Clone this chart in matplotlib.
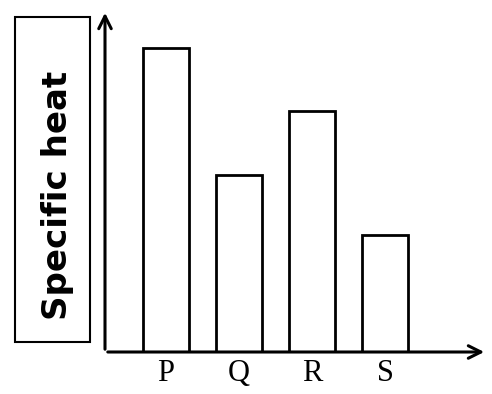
import matplotlib
matplotlib.use("Agg")
import matplotlib.pyplot as plt
from matplotlib.patches import Rectangle

# data (heights, arbitrary units)
labels = ["P", "Q", "R", "S"]
heights = [304, 177, 241, 117]
ylabel = "Specific heat"

W, H = 492, 394
fig = plt.figure(figsize=(W / 100, H / 100), dpi=100)

# axes placed in pixel terms: left 105, right 487, bottom 352, top 10
ax = fig.add_axes([105 / W, 1 - 352 / H, (487 - 105) / W, (352 - 10) / H])
pos = list(range(len(labels)))
ax.bar(pos, heights, width=0.62, facecolor="white", edgecolor="black", linewidth=2)
ax.set_xlim(-0.836, 4.397)
ax.set_ylim(0, 342)

for s in ax.spines.values():
    s.set_visible(False)
ax.set_yticks([])
ax.set_xticks(pos)
ax.set_xticklabels(labels, fontfamily="Liberation Serif", fontsize=22)
ax.tick_params(axis="x", length=0, pad=5)

# axis arrows (open heads)
ax.annotate("", xy=(1.0, 0), xytext=(0, 0), xycoords="axes fraction",
            arrowprops=dict(arrowstyle="->,head_length=0.9,head_width=0.45", lw=2.2, color="black"))
ax.annotate("", xy=(0, 1.0), xytext=(0, 0), xycoords="axes fraction",
            arrowprops=dict(arrowstyle="->,head_length=0.9,head_width=0.45", lw=2.2, color="black"))

# boxed y label
fig.patches.append(Rectangle((15 / W, 1 - 342 / H), 75 / W, 325 / H, transform=fig.transFigure,
                             facecolor="white", edgecolor="black", linewidth=1.5))
fig.text(58 / W, 1 - 195 / H, ylabel, rotation=90, ha="center", va="center",
         fontfamily="DejaVu Sans", fontweight="bold", fontsize=24.5)

fig.savefig("out.png", dpi=100)
